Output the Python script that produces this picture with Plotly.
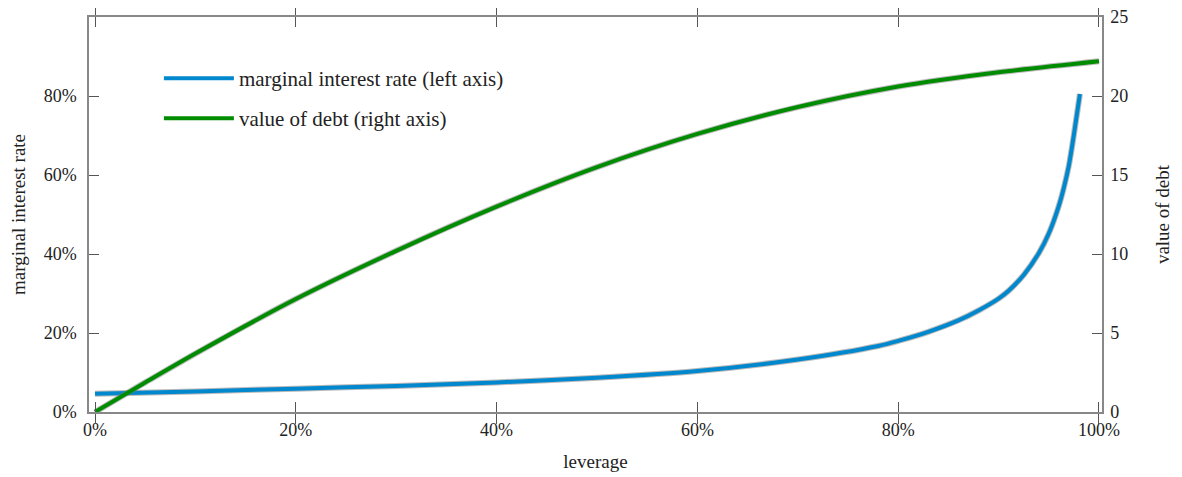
import plotly.graph_objects as go

# leverage values (fraction) and series
rate_leverage = [0.0, 0.1, 0.2, 0.3, 0.4, 0.5, 0.6, 0.7, 0.78, 0.8, 0.83, 0.86, 0.88,
                 0.9, 0.91, 0.925, 0.94, 0.95, 0.96, 0.965, 0.97, 0.975, 0.981]
marginal_rate = [0.046, 0.052, 0.059, 0.066, 0.075, 0.087, 0.104, 0.133, 0.167, 0.180,
                 0.203, 0.232, 0.257, 0.287, 0.307, 0.347, 0.402, 0.452, 0.522, 0.568,
                 0.624, 0.702, 0.805]

debt_leverage = [0.0, 0.05, 0.1, 0.2, 0.3, 0.4, 0.5, 0.6, 0.7, 0.8, 0.9, 1.0]
debt_value = [0.0, 1.87, 3.7, 7.15, 10.2, 13.0, 15.5, 17.6, 19.3, 20.6, 21.5, 22.2]

x_ticks = [0, 0.2, 0.4, 0.6, 0.8, 1.0]
x_labels = ["0%", "20%", "40%", "60%", "80%", "100%"]
y_ticks = [0, 0.2, 0.4, 0.6, 0.8]
y_labels = ["0%", "20%", "40%", "60%", "80%"]
y2_ticks = [0, 5, 10, 15, 20, 25]

BLUE = "rgb(0,136,206)"
GREEN = "rgb(0,140,0)"
HALO = "rgba(120,120,120,0.5)"
FONT = "Liberation Serif"
FS = 19
TFS = 18
AXIS = "#888888"

fig = go.Figure()
# gray halos under the lines
fig.add_trace(go.Scatter(x=rate_leverage, y=marginal_rate, mode="lines",
                         line=dict(color=HALO, width=6, shape="spline", smoothing=0.8),
                         showlegend=False, hoverinfo="skip"))
fig.add_trace(go.Scatter(x=debt_leverage, y=debt_value, mode="lines", yaxis="y2",
                         line=dict(color=HALO, width=6, shape="spline", smoothing=0.8),
                         showlegend=False, hoverinfo="skip"))
fig.add_trace(go.Scatter(x=rate_leverage, y=marginal_rate, mode="lines",
                         name="marginal interest rate (left axis)",
                         line=dict(color=BLUE, width=4, shape="spline", smoothing=0.8), legend="legend"))
fig.add_trace(go.Scatter(x=debt_leverage, y=debt_value, mode="lines",
                         name="value of debt (right axis)", yaxis="y2",
                         line=dict(color=GREEN, width=4, shape="spline", smoothing=0.8), legend="legend2"))

axis_common = dict(showline=True, linecolor=AXIS, linewidth=1.5, ticks="inside", ticklen=10,
                   tickcolor="#555555", tickwidth=1.2, showgrid=False, zeroline=False,
                   automargin=False, ticklabeloverflow="allow",
                   tickfont=dict(family=FONT, size=TFS, color="#222222"))

fig.update_layout(
    width=1182, height=477,
    margin=dict(l=81, r=88, t=9, b=73),
    paper_bgcolor="white", plot_bgcolor="white",
    font=dict(family=FONT, size=FS, color="#222222"),
    xaxis=dict(range=[-0.006, 1.003], tickvals=x_ticks, ticktext=x_labels, mirror="allticks",
               title=dict(text="leverage", font=dict(family=FONT, size=FS), standoff=15),
               ticklabelstandoff=1, **axis_common),
    yaxis=dict(range=[0, 1.0], tickvals=y_ticks, ticktext=y_labels,
               title=dict(text="marginal interest rate", font=dict(family=FONT, size=FS), standoff=17),
               ticklabelstandoff=7, **axis_common),
    yaxis2=dict(range=[0, 25], tickvals=y2_ticks, overlaying="y", side="right",
                title=dict(text="value of debt", font=dict(family=FONT, size=FS), standoff=28),
                ticklabelstandoff=3, **axis_common),
    legend=dict(x=0.069, y=0.896, xanchor="left", yanchor="top", bgcolor="rgba(0,0,0,0)",
                itemwidth=70, font=dict(family=FONT, size=21)),
    legend2=dict(x=0.069, y=0.795, xanchor="left", yanchor="top", bgcolor="rgba(0,0,0,0)",
                 itemwidth=70, font=dict(family=FONT, size=21)),
)

fig.write_html("out.html")
